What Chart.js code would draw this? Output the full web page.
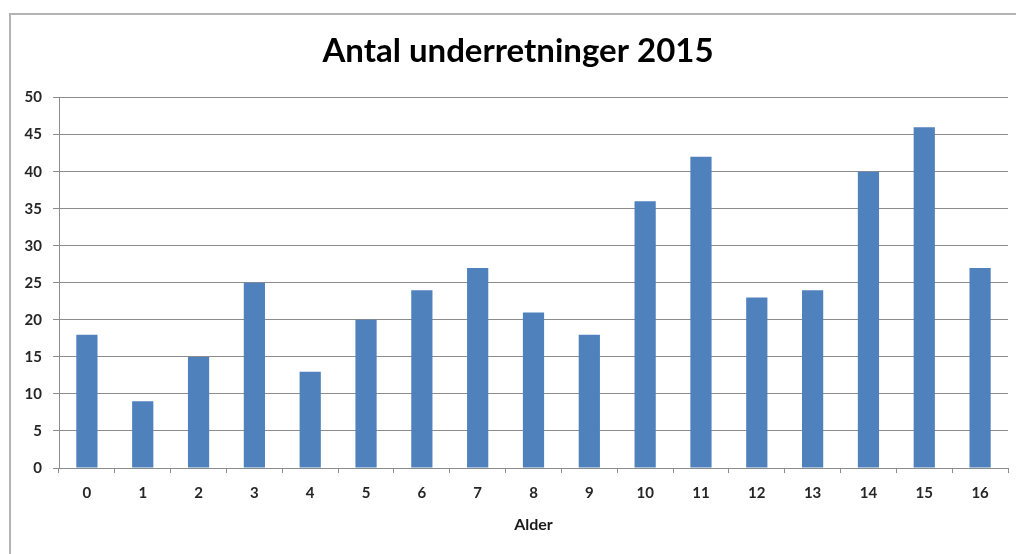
<!DOCTYPE html>
<html>
<head>
<meta charset="utf-8">
<script src="https://cdn.jsdelivr.net/npm/chart.js@4"></script>
<style>
  body { margin: 0; background: #fff; }
  #wrap { position: relative; width: 1016px; height: 554px; overflow: hidden; }
  #frame { position: absolute; left: 9px; top: 13px; width: 1100px; height: 600px;
           border: 2px solid #b4b4b4; pointer-events: none; }
</style>
</head>
<body>
<div id="wrap">
  <canvas id="chart" width="1016" height="554"></canvas>
  <div id="frame"></div>
</div>
<script>
const ages = ['0','1','2','3','4','5','6','7','8','9','10','11','12','13','14','15','16'];
const counts = [18, 9, 15, 25, 13, 20, 24, 27, 21, 18, 36, 42, 23, 24, 40, 46, 27];
const yTicks = [0, 5, 10, 15, 20, 25, 30, 35, 40, 45, 50];

const fontFamily = 'Lato, "Open Sans", sans-serif';

// the original title sits a bit right of the canvas centre
const shiftTitle = {
  id: 'shiftTitle',
  afterLayout: chart => {
    if (chart.titleBlock) chart.titleBlock.left += 28;
  }
};

new Chart(document.getElementById('chart').getContext('2d'), {
  type: 'bar',
  data: {
    labels: ages,
    datasets: [{
      label: 'Antal',
      data: counts,
      backgroundColor: '#4f81bd',
      borderWidth: 0,
      barPercentage: 0.38,
      categoryPercentage: 1
    }]
  },
  options: {
    responsive: false,
    animation: false,
    layout: { padding: { left: 0, right: 8, top: 0, bottom: 0 } },
    plugins: {
      legend: { display: false },
      tooltip: { enabled: false },
      title: {
        display: true,
        text: 'Antal underretninger 2015',
        color: '#000',
        font: { family: fontFamily, size: 33, weight: 'bold' },
        padding: { top: 32, bottom: 26 }
      }
    },
    scales: {
      x: {
        grid: { display: true, drawOnChartArea: false, drawTicks: true, tickLength: 5, color: '#8c8c8c', offset: true },
        border: { color: '#8c8c8c', width: 1 },
        ticks: { color: '#262626', padding: 11, font: { family: fontFamily, size: 15, weight: 'bold' } },
        title: { display: true, text: 'Alder', color: '#1a1a1a', font: { family: fontFamily, size: 16, weight: 'bold' }, padding: { top: 0, bottom: 20 } },
        afterFit: s => { s.height = 86; }
      },
      y: {
        min: 0,
        max: 50,
        afterBuildTicks: s => { s.ticks = yTicks.map(v => ({ value: v })); },
        grid: { color: '#8c8c8c', tickLength: 6 },
        border: { color: '#8c8c8c', width: 1 },
        ticks: { color: '#262626', padding: 11, font: { family: fontFamily, size: 15, weight: 'bold' } },
        afterFit: s => { s.width = 59; }
      }
    }
  },
  plugins: [shiftTitle]
});
</script>
</body>
</html>
